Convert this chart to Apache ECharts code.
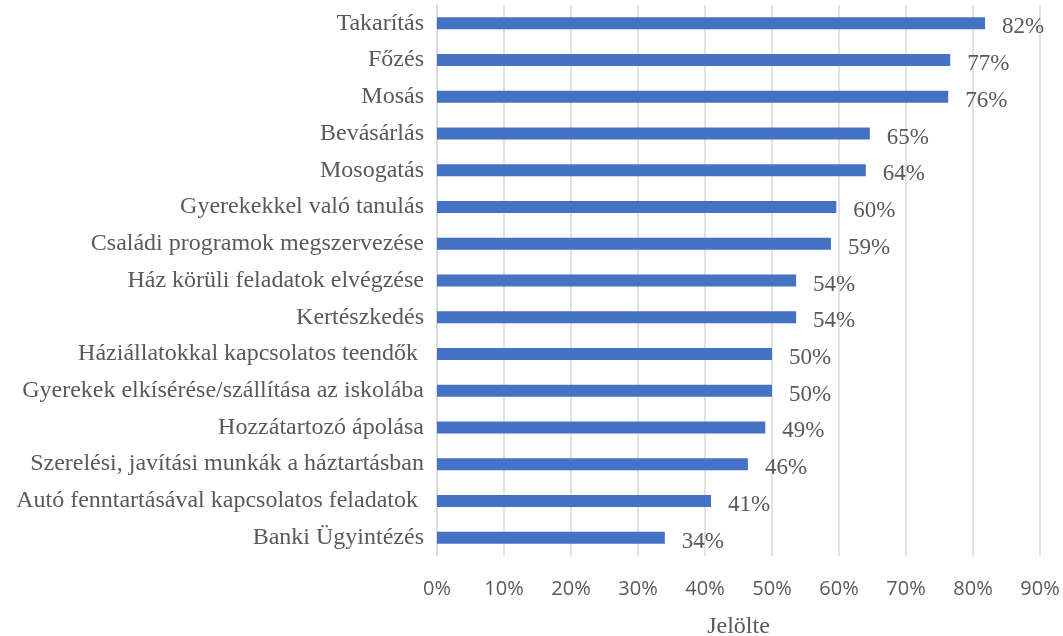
<!DOCTYPE html>
<html>
<head>
<meta charset="utf-8">
<script src="https://cdn.jsdelivr.net/npm/echarts@6/dist/echarts.min.js"></script>
<style>html,body{margin:0;padding:0;background:#fff}#c{width:1063px;height:636px}</style>
</head>
<body>
<div id="c"></div>
<script>
const categories = ["Takarítás","Főzés","Mosás","Bevásárlás","Mosogatás","Gyerekekkel való tanulás","Családi programok megszervezése","Ház körüli feladatok elvégzése","Kertészkedés","Háziállatokkal kapcsolatos teendők ","Gyerekek elkísérése/szállítása az iskolába","Hozzátartozó ápolása","Szerelési, javítási munkák a háztartásban","Autó fenntartásával kapcsolatos feladatok ","Banki Ügyintézés"];
const values = [81.8, 76.6, 76.3, 64.6, 64.0, 59.6, 58.8, 53.6, 53.6, 50.0, 50.0, 49.0, 46.4, 40.9, 34.0];
const labels = ["82%","77%","76%","65%","64%","60%","59%","54%","54%","50%","50%","49%","46%","41%","34%"];
const xTicks = [0,10,20,30,40,50,60,70,80,90];
const axisName = "Jelölte";

const chart = echarts.init(document.getElementById('c'), null, {renderer:'canvas'});
chart.setOption({
  animation:false,
  grid:{left:437, right:23, top:5, bottom:80, containLabel:false, outerBoundsMode:'none'},
  xAxis:{
    type:'value', min:xTicks[0], max:xTicks[xTicks.length-1], interval:10,
    name:axisName, nameLocation:'middle', nameGap:59,
    nameTextStyle:{fontFamily:'Liberation Serif', fontSize:24, color:'#595959'},
    axisLine:{show:false}, axisTick:{show:false},
    axisLabel:{formatter:v=>v+'%', fontFamily:'Open Sans', fontSize:20, color:'#595959', margin:23},
    splitLine:{show:true, lineStyle:{color:'#d9d9d9', width:1.5}}
  },
  yAxis:{
    type:'category', data:categories, inverse:true,
    axisLine:{show:true, lineStyle:{color:'#d9d9d9', width:1.5}}, axisTick:{show:false},
    axisLabel:{fontFamily:'Liberation Serif', fontSize:24, color:'#595959', margin:13}
  },
  series:[{
    type:'bar', data:values, barWidth:12,
    itemStyle:{color:'#4472C4'},
    label:{show:true, position:'right', distance:17,
      formatter:p=>labels[p.dataIndex],
      fontFamily:'Liberation Serif', fontSize:23, color:'#595959', offset:[0,4]}
  }]
});
</script>
</body>
</html>
